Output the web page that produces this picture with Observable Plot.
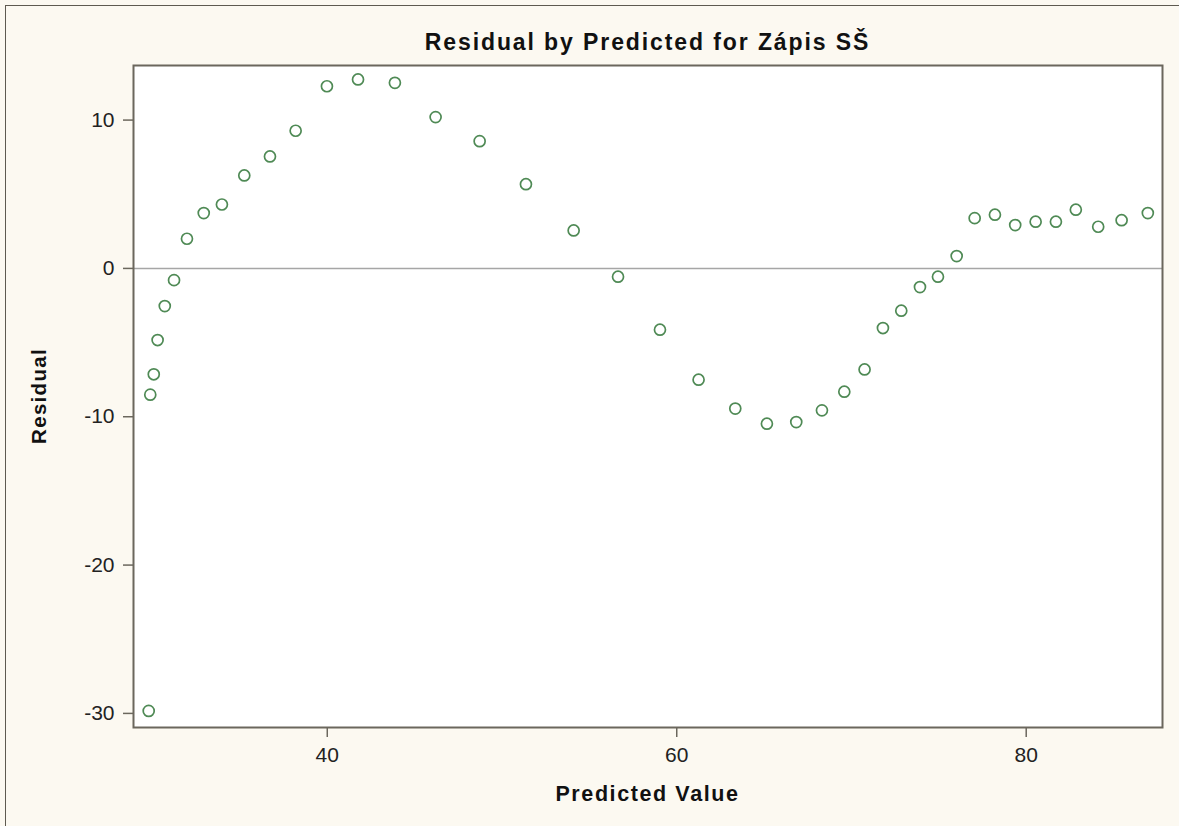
<!DOCTYPE html>
<html>
<head>
<meta charset="utf-8">
<script src="https://cdn.jsdelivr.net/npm/d3@7"></script>
<script src="https://cdn.jsdelivr.net/npm/@observablehq/plot@0.6"></script>
<style>
  html, body { margin: 0; padding: 0; background: #fcf9f1; overflow: hidden; }
  #wrap { position: relative; width: 1179px; height: 826px; }
  #border { position: absolute; left: 5px; top: 5px; width: 3000px; height: 3000px;
            border-left: 1.5px solid #5e5a50; border-top: 1.5px solid #5e5a50; }
  .lbl { position: absolute; font-family: "Liberation Sans", Arial, sans-serif; font-weight: bold;
         color: #111; white-space: nowrap; text-align: center; }
  #chart { position: absolute; left: 0; top: 0; }
</style>
</head>
<body>
<div id="wrap">
  <div id="border"></div>
  <div id="chart"></div>
  <div class="lbl" id="title" style="left:133px; width:1029px; top:30.5px; font-size:23px; line-height:23px; letter-spacing:1.9px;">Residual by Predicted for Zápis SŠ</div>
  <div class="lbl" id="xlabel" style="left:133px; width:1029px; top:783.5px; font-size:21.5px; line-height:21.5px; letter-spacing:1.6px;">Predicted Value</div>
  <div class="lbl" id="ylabel" style="left:-111px; top:386px; width:300px; height:20px; font-size:20.5px; line-height:20px; letter-spacing:1.3px; transform: rotate(-90deg);">Residual</div>
</div>
<script>
const predicted = [29.78, 29.87, 30.07, 30.29, 30.70, 31.23, 31.97, 32.93, 33.97, 35.25,
  36.72, 38.19, 39.98, 41.76, 43.87, 46.20, 48.72, 51.37, 54.10, 56.64,
  59.04, 61.25, 63.35, 65.16, 66.84, 68.31, 69.59, 70.75, 71.80, 72.85,
  73.92, 74.95, 76.02, 77.05, 78.21, 79.37, 80.54, 81.70, 82.84, 84.12,
  85.46, 86.96];
const residual = [-29.83, -8.51, -7.14, -4.83, -2.54, -0.79, 2.00, 3.73, 4.31, 6.27,
  7.55, 9.28, 12.28, 12.74, 12.51, 10.20, 8.58, 5.68, 2.56, -0.56,
  -4.13, -7.50, -9.45, -10.47, -10.36, -9.57, -8.31, -6.81, -4.02, -2.85,
  -1.26, -0.56, 0.83, 3.39, 3.62, 2.92, 3.15, 3.15, 3.96, 2.81,
  3.25, 3.73];
const xTicks = [40, 60, 80];
const yTicks = [10, 0, -10, -20, -30];

const data = predicted.map((p, i) => ({predicted: p, residual: residual[i]}));

const frameColor = "#6b675d";
const chart = Plot.plot({
  width: 1179,
  height: 826,
  marginLeft: 133,
  marginRight: 17,
  marginTop: 65,
  marginBottom: 99,
  style: {background: "transparent", fontFamily: "'Liberation Sans', Arial, sans-serif", overflow: "visible"},
  x: {domain: [28.91, 87.8], label: null},
  y: {domain: [-30.95, 13.68], label: null},
  marks: [
    Plot.frame({fill: "white", stroke: null}),
    Plot.ruleY([0], {stroke: "#a6a6a6", strokeWidth: 1.5}),
    Plot.dot(data, {x: "predicted", y: "residual", r: 5.5, stroke: "#4f8a55", strokeWidth: 1.7, fill: "none"}),
    Plot.frame({stroke: frameColor, strokeWidth: 2}),
    Plot.axisX(xTicks, {anchor: "bottom", tickSize: 10, tickPadding: 10, fontSize: 21, stroke: frameColor, strokeWidth: 1.5, fill: "#222", label: null, tickFormat: d => String(d)}),
    Plot.axisY(yTicks, {anchor: "left", tickSize: 10, tickPadding: 9, fontSize: 21, stroke: frameColor, strokeWidth: 1.5, fill: "#222", label: null, tickFormat: d => String(d)})
  ]
});
document.getElementById("chart").appendChild(chart);
</script>
</body>
</html>
